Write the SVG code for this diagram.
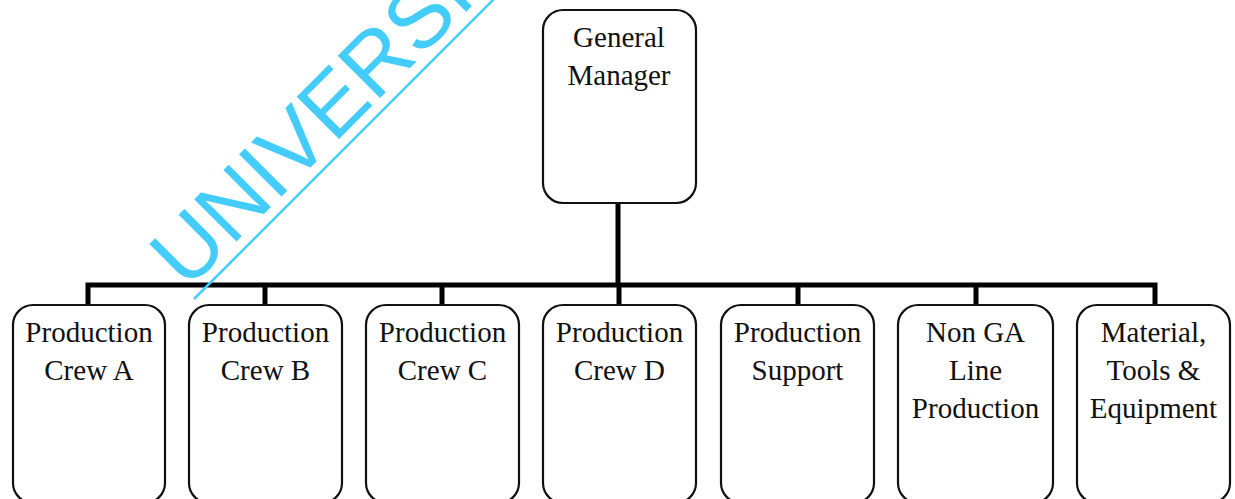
<svg xmlns="http://www.w3.org/2000/svg" width="1235" height="499" viewBox="0 0 1235 499">
<style>
.box{fill:#fff;stroke:#111;stroke-width:2.2}
.t{font-family:"Liberation Serif","Times New Roman",serif;font-size:29px;fill:#111;text-anchor:middle}
.c{stroke:#000;stroke-width:5;fill:none}
.wm{font-family:"Liberation Sans",Arial,sans-serif;font-size:87px;fill:#44ccfb}
</style>
<rect width="1235" height="499" fill="#fff"/>
<g id="connectors">
<path class="c" d="M618 203V285M88 305V285H1155V305M265 285V305M442 285V305M619 285V305M798 285V305M976 285V305"/>
</g>
<g id="gm"><rect class="box" x="543" y="10" width="153" height="193" rx="20"/><text class="t" x="619" y="47">General</text><text class="t" x="619" y="85">Manager</text></g>
<g id="crewA"><rect class="box" x="13" y="305" width="152" height="198" rx="20"/><text class="t" x="89" y="342">Production</text><text class="t" x="89" y="380">Crew A</text></g>
<g id="crewB"><rect class="box" x="189" y="305" width="153" height="198" rx="20"/><text class="t" x="265.5" y="342">Production</text><text class="t" x="265.5" y="380">Crew B</text></g>
<g id="crewC"><rect class="box" x="366" y="305" width="153" height="198" rx="20"/><text class="t" x="442.5" y="342">Production</text><text class="t" x="442.5" y="380">Crew C</text></g>
<g id="crewD"><rect class="box" x="543" y="305" width="153" height="198" rx="20"/><text class="t" x="619.5" y="342">Production</text><text class="t" x="619.5" y="380">Crew D</text></g>
<g id="support"><rect class="box" x="721" y="305" width="153" height="198" rx="20"/><text class="t" x="797.5" y="342">Production</text><text class="t" x="797.5" y="380">Support</text></g>
<g id="nonga"><rect class="box" x="898" y="305" width="155" height="198" rx="20"/><text class="t" x="975.5" y="342">Non GA</text><text class="t" x="975.5" y="380">Line</text><text class="t" x="975.5" y="418">Production</text></g>
<g id="material"><rect class="box" x="1077" y="305" width="153" height="198" rx="20"/><text class="t" x="1153.5" y="342">Material,</text><text class="t" x="1153.5" y="380">Tools &amp;</text><text class="t" x="1153.5" y="418">Equipment</text></g>
<g id="watermark">
<text class="wm" transform="translate(187 291) rotate(-45)">UNIVERSI</text>
<line x1="194" y1="299" x2="494" y2="-1" stroke="#44ccfb" stroke-width="2.5"/>
</g>
</svg>
